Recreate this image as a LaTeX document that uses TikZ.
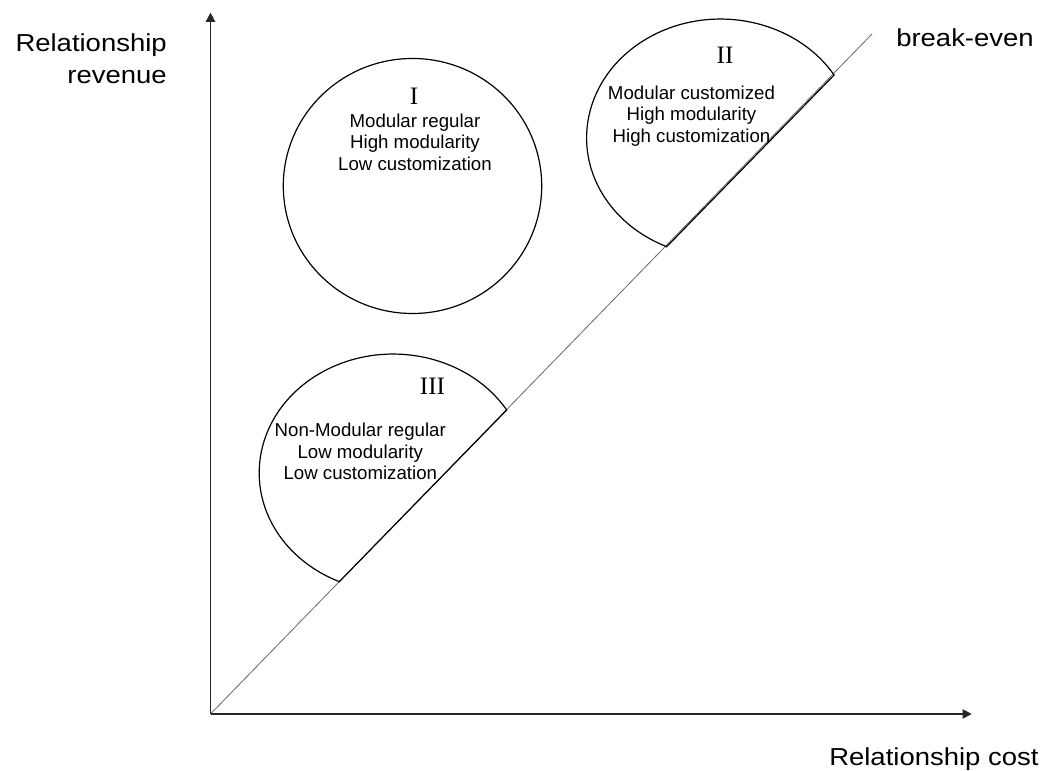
\documentclass[tikz,border=0pt]{standalone}
\usepackage{fontspec}
\setmainfont{Liberation Sans}
\newfontfamily\axisfont{Liberation Sans}[FakeStretch=1.12]
\newfontfamily\romanfont{Liberation Serif}
\usetikzlibrary{arrows.meta}

% centred block of lines whose reference point is the first baseline
\newcommand{\stacklines}[1]{\begin{tabular}[t]{@{}c@{}}#1\end{tabular}}

\tikzset{
  axisline/.style={draw=black!85, line width=0.9pt,
    -{Triangle[length=6.8pt,width=7pt]}},
  evenline/.style={draw=black!60, line width=0.6pt},
  region/.style={draw=black, line width=0.9pt},
  axislabel/.style={inner sep=0pt, font=\axisfont\fontsize{18.4}{22}\selectfont},
  numeral/.style={inner sep=0pt, anchor=base, font=\romanfont\fontsize{18.8}{22}\selectfont},
  regiontext/.style={inner sep=0pt, anchor=base,
    font=\fontsize{14}{16.2}\selectfont\renewcommand{\arraystretch}{1}},
}

\begin{document}
\begin{tikzpicture}[x=0.75pt, y=0.75pt]
\useasboundingbox (0,0) rectangle (1047,771);

% axes and the break-even diagonal
\coordinate (O) at (210.5,57);
\coordinate (ytip) at (210.5,758.3);
\coordinate (xtip) at (971.7,57);
\coordinate (D) at (872,737);
\draw[evenline] (O) -- (D);
\draw[axisline] (O) -- (ytip);
\draw[axisline] (O) -- (xtip);

% region I: closed round outline
\coordinate (c1) at (412.5,585);
\draw[region] (c1) ellipse[x radius=129.2, y radius=127.5];

% region III: elliptic segment cut off by the diagonal
\coordinate (p3a) at (506.7,361);
\coordinate (p3b) at (339.3,189.3);
\draw[region] (p3a) arc[start angle=31.95, end angle=246.3,
  x radius=133.9, y radius=118.8] -- (p3b) -- cycle;

% region II: same segment, further up the diagonal
\coordinate (p2a) at (834.1,696);
\coordinate (p2b) at (666.7,524.3);
\draw[region] (p2a) arc[start angle=31.95, end angle=246.3,
  x radius=133.9, y radius=118.8] -- (p2b) -- cycle;

% axis labels
\node[axislabel, anchor=base east] (yl1) at (167,719.3) {Relationship};
\node[axislabel, anchor=base east] (yl2) at (167,687.7) {revenue};
\node[axislabel, anchor=base west] (xl) at (829,5) {Relationship cost};
\node[axislabel, anchor=base west] (be) at (896,724) {break-even};

% region labels
\node[numeral] (n1) at (414,666) {I};
\node[regiontext] (t1) at (415,643.7)
  {\stacklines{Modular regular\\High modularity\\Low customization}};

\node[numeral] (n2) at (725,707.7) {II};
\node[regiontext] (t2) at (691.5,671.7)
  {\stacklines{Modular customized\\High modularity\\High customization}};

\node[numeral] (n3) at (432.5,376) {III};
\node[regiontext] (t3) at (360.3,334.3)
  {\stacklines{Non-Modular regular\\Low modularity\\Low customization}};
\end{tikzpicture}
\end{document}
